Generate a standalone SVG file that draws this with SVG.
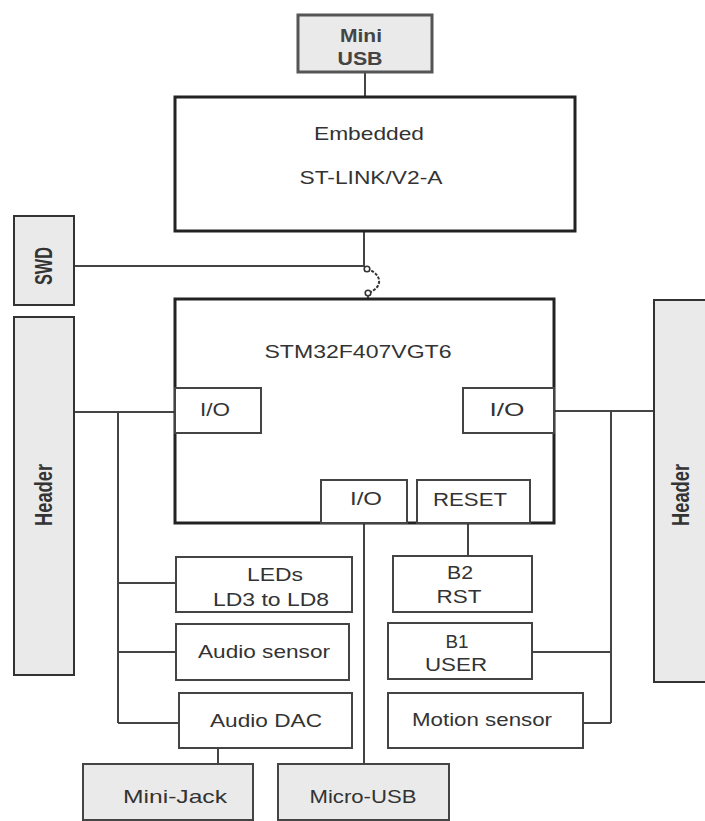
<svg xmlns="http://www.w3.org/2000/svg" width="705" height="821" viewBox="0 0 705 821">
<style>
.big{fill:#fff;stroke:#222;stroke-width:3}
.box{fill:#fff;stroke:#444;stroke-width:2}
.gray{fill:#eaeaea;stroke:#444;stroke-width:2}
.ln{fill:none;stroke:#444;stroke-width:2}
text{font-family:"Liberation Sans",Arial,sans-serif;font-size:19px;fill:#333;text-anchor:middle}
</style>
<rect width="705" height="821" fill="#fff"/>
<g id="connectors">
<line class="ln" x1="365" y1="72" x2="365" y2="97"/>
<polyline class="ln" points="364,231 364,266 74,266"/>
<path d="M367,269 C383,274 383,288 368,293" fill="none" stroke="#333" stroke-width="2" stroke-dasharray="3,1.5"/>
<circle cx="367" cy="269" r="2.8" fill="#fff" stroke="#333" stroke-width="1.6"/>
<circle cx="368" cy="293" r="2.8" fill="#fff" stroke="#333" stroke-width="1.6"/>
<line class="ln" x1="368" y1="295.5" x2="368" y2="299"/>
<line class="ln" x1="74" y1="412" x2="175" y2="412"/>
<line class="ln" x1="118" y1="412" x2="118" y2="723"/>
<line class="ln" x1="118" y1="583" x2="176" y2="583"/>
<line class="ln" x1="118" y1="652" x2="176" y2="652"/>
<line class="ln" x1="118" y1="723" x2="179" y2="723"/>
<line class="ln" x1="218" y1="748" x2="218" y2="764"/>
<line class="ln" x1="364" y1="523" x2="364" y2="764"/>
<line class="ln" x1="468" y1="523" x2="468" y2="556"/>
<line class="ln" x1="554" y1="411" x2="654" y2="411"/>
<line class="ln" x1="611" y1="411" x2="611" y2="723"/>
<line class="ln" x1="532" y1="652" x2="611" y2="652"/>
<line class="ln" x1="583" y1="723" x2="611" y2="723"/>
</g>
<g id="mini-usb">
<rect class="gray" x="298" y="15" width="134" height="57" style="stroke:#555;stroke-width:3"/>
<text x="361" y="42" textLength="42" lengthAdjust="spacingAndGlyphs" style="font-weight:bold;fill:#444">Mini</text>
<text x="360" y="65" textLength="45" lengthAdjust="spacingAndGlyphs" style="font-weight:bold;fill:#444">USB</text>
</g>
<g id="stlink">
<rect class="big" x="175" y="97" width="400" height="134"/>
<text x="369" y="140" textLength="110" lengthAdjust="spacingAndGlyphs">Embedded</text>
<text x="371" y="184" textLength="143" lengthAdjust="spacingAndGlyphs">ST-LINK/V2-A</text>
</g>
<g id="swd">
<rect class="gray" x="14" y="216" width="60" height="89" style="stroke:#333"/>
<text transform="translate(44,266) scale(1.3,1) rotate(-90)" x="0" y="6" textLength="38" lengthAdjust="spacingAndGlyphs" style="font-weight:bold">SWD</text>
</g>
<g id="header-left">
<rect class="gray" x="14" y="317" width="60" height="358" style="stroke:#333"/>
<text transform="translate(44,495) scale(1.3,1) rotate(-90)" x="0" y="6" textLength="62" lengthAdjust="spacingAndGlyphs" style="font-weight:bold">Header</text>
</g>
<g id="header-right">
<rect class="gray" x="654" y="300" width="70" height="382" style="stroke:#333"/>
<text transform="translate(681,495) scale(1.3,1) rotate(-90)" x="0" y="6" textLength="62" lengthAdjust="spacingAndGlyphs" style="font-weight:bold">Header</text>
</g>
<g id="mcu">
<rect class="big" x="175" y="299" width="379" height="224"/>
<text x="358" y="358" textLength="187" lengthAdjust="spacingAndGlyphs">STM32F407VGT6</text>
</g>
<g id="io-left">
<rect class="box" x="175" y="388" width="86" height="45"/>
<text x="215" y="416" textLength="30" lengthAdjust="spacingAndGlyphs">I/O</text>
</g>
<g id="io-right">
<rect class="box" x="463" y="388" width="91" height="45"/>
<text x="507" y="416" textLength="35" lengthAdjust="spacingAndGlyphs">I/O</text>
</g>
<g id="io-bottom">
<rect class="box" x="321" y="480" width="86" height="43"/>
<text x="366" y="505" textLength="32" lengthAdjust="spacingAndGlyphs">I/O</text>
</g>
<g id="reset">
<rect class="box" x="417" y="480" width="113" height="43"/>
<text x="470" y="506" textLength="74" lengthAdjust="spacingAndGlyphs">RESET</text>
</g>
<g id="leds">
<rect class="box" x="176" y="557" width="176" height="55"/>
<text x="275" y="581" textLength="56" lengthAdjust="spacingAndGlyphs">LEDs</text>
<text x="271" y="606" textLength="116" lengthAdjust="spacingAndGlyphs">LD3 to LD8</text>
</g>
<g id="audio-sensor">
<rect class="box" x="176" y="624" width="173" height="56"/>
<text x="264" y="658" textLength="132" lengthAdjust="spacingAndGlyphs">Audio sensor</text>
</g>
<g id="audio-dac">
<rect class="box" x="179" y="693" width="173" height="55"/>
<text x="266" y="727" textLength="112" lengthAdjust="spacingAndGlyphs">Audio DAC</text>
</g>
<g id="mini-jack">
<rect class="gray" x="83" y="764" width="170" height="56"/>
<text x="175" y="803" textLength="104" lengthAdjust="spacingAndGlyphs">Mini-Jack</text>
</g>
<g id="micro-usb">
<rect class="gray" x="278" y="764" width="171" height="56"/>
<text x="363" y="803" textLength="107" lengthAdjust="spacingAndGlyphs">Micro-USB</text>
</g>
<g id="b2">
<rect class="box" x="393" y="556" width="139" height="56"/>
<text x="460" y="579" textLength="26" lengthAdjust="spacingAndGlyphs">B2</text>
<text x="459" y="603" textLength="45" lengthAdjust="spacingAndGlyphs">RST</text>
</g>
<g id="b1">
<rect class="box" x="388" y="623" width="144" height="56"/>
<text x="457" y="648" textLength="23" lengthAdjust="spacingAndGlyphs">B1</text>
<text x="456" y="671" textLength="62" lengthAdjust="spacingAndGlyphs">USER</text>
</g>
<g id="motion">
<rect class="box" x="388" y="693" width="195" height="55"/>
<text x="482" y="726" textLength="140" lengthAdjust="spacingAndGlyphs">Motion sensor</text>
</g>
</svg>
